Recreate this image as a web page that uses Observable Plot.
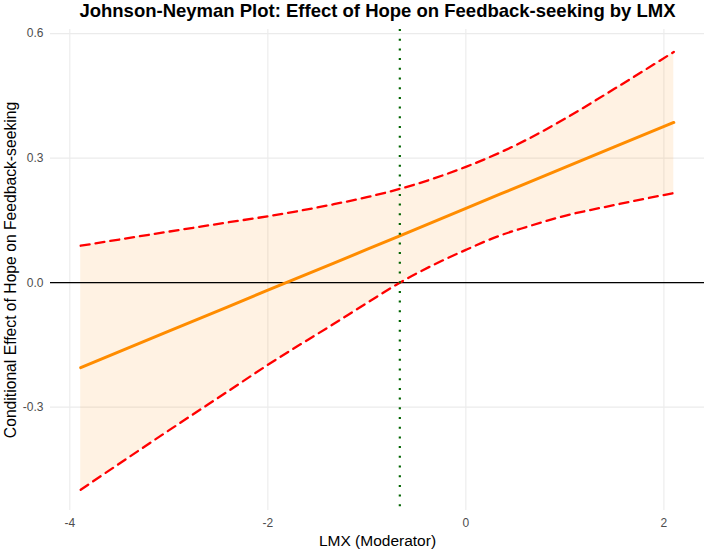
<!DOCTYPE html>
<html>
<head>
<meta charset="utf-8">
<script src="https://cdn.jsdelivr.net/npm/d3@7"></script>
<script src="https://cdn.jsdelivr.net/npm/@observablehq/plot@0.6"></script>
<style>
  html, body { margin: 0; padding: 0; background: white; }
</style>
</head>
<body>
<div id="chart"></div>
<script>
// Moderator values (LMX)
const lmx = [-3.89, -3.0, -2.41, -2.0, -1.333, -1.0, -0.667, 0.0, 0.35, 0.61, 1.0, 1.5, 2.1];
// Conditional effect estimate
const effect = [-0.205, -0.117, -0.059, -0.018, 0.047, 0.080, 0.113, 0.179, 0.214, 0.239, 0.278, 0.327, 0.386];
// Confidence band
const upper = [0.089, 0.123, 0.145, 0.160, 0.189, 0.206, 0.226, 0.279, 0.314, 0.344, 0.395, 0.467, 0.556];
const lower = [-0.499, -0.356, -0.263, -0.198, -0.099, -0.049, 0.0, 0.079, 0.114, 0.134, 0.161, 0.187, 0.216];
// Johnson-Neyman point
const jnPoint = [-0.667];
const xTicks = [-4, -2, 0, 2];
const yTicks = [-0.3, 0.0, 0.3, 0.6];

const title = "Johnson-Neyman Plot: Effect of Hope on Feedback-seeking by LMX";
const xLabel = "LMX (Moderator)";
const yLabel = "Conditional Effect of Hope on Feedback-seeking";

const rows = lmx.map((x, i) => ({x, est: effect[i], lo: lower[i], hi: upper[i]}));

const chart = Plot.plot({
  width: 708,
  height: 552,
  marginLeft: 50,
  marginRight: 4,
  marginTop: 29,
  marginBottom: 42,
  style: {fontFamily: "'Liberation Sans', Arial, sans-serif", background: "white"},
  x: {domain: [-4.195, 2.41]},
  y: {domain: [-0.549, 0.61]},
  marks: [
    Plot.gridX(xTicks, {stroke: "#ebebeb", strokeOpacity: 1, strokeWidth: 1.1}),
    Plot.gridY(yTicks, {stroke: "#ebebeb", strokeOpacity: 1, strokeWidth: 1.1}),
    Plot.areaY(rows, {x: "x", y1: "lo", y2: "hi", fill: "#ff8c00", fillOpacity: 0.11, curve: "monotone-x"}),
    Plot.ruleY([0], {stroke: "black", strokeWidth: 1.1}),
    Plot.line(rows, {x: "x", y: "hi", stroke: "#ff0000", strokeWidth: 2.3, strokeDasharray: "9,6", curve: "monotone-x"}),
    Plot.line(rows, {x: "x", y: "lo", stroke: "#ff0000", strokeWidth: 2.3, strokeDasharray: "9,6", curve: "monotone-x"}),
    Plot.line(rows, {x: "x", y: "est", stroke: "#ff8c00", strokeWidth: 3}),
    Plot.ruleX(jnPoint, {stroke: "#006400", strokeWidth: 2.2, strokeDasharray: "2,7.7"}),
    Plot.axisX(xTicks, {tickSize: 0, tickPadding: 8, fontSize: 12, fill: "#4d4d4d", label: null, tickFormat: d => d < 0 ? "-" + Math.abs(d) : String(d)}),
    Plot.axisY(yTicks, {tickSize: 0, tickPadding: 7, fontSize: 12, fill: "#4d4d4d", label: null, tickFormat: d => (d < 0 ? "-" : "") + Math.abs(d).toFixed(1)}),
    Plot.text([xLabel], {frameAnchor: "bottom", dy: 31, lineAnchor: "middle", fontSize: 15.5, fill: "black"}),
    Plot.text([yLabel], {frameAnchor: "left", dx: -40, rotate: -90, textAnchor: "middle", lineAnchor: "middle", fontSize: 15.7, fill: "black"}),
    Plot.text([title], {frameAnchor: "top", dy: -18, lineAnchor: "middle", fontSize: 18.5, fontWeight: "bold", fill: "black"})
  ]
});
document.getElementById("chart").appendChild(chart);
</script>
</body>
</html>
